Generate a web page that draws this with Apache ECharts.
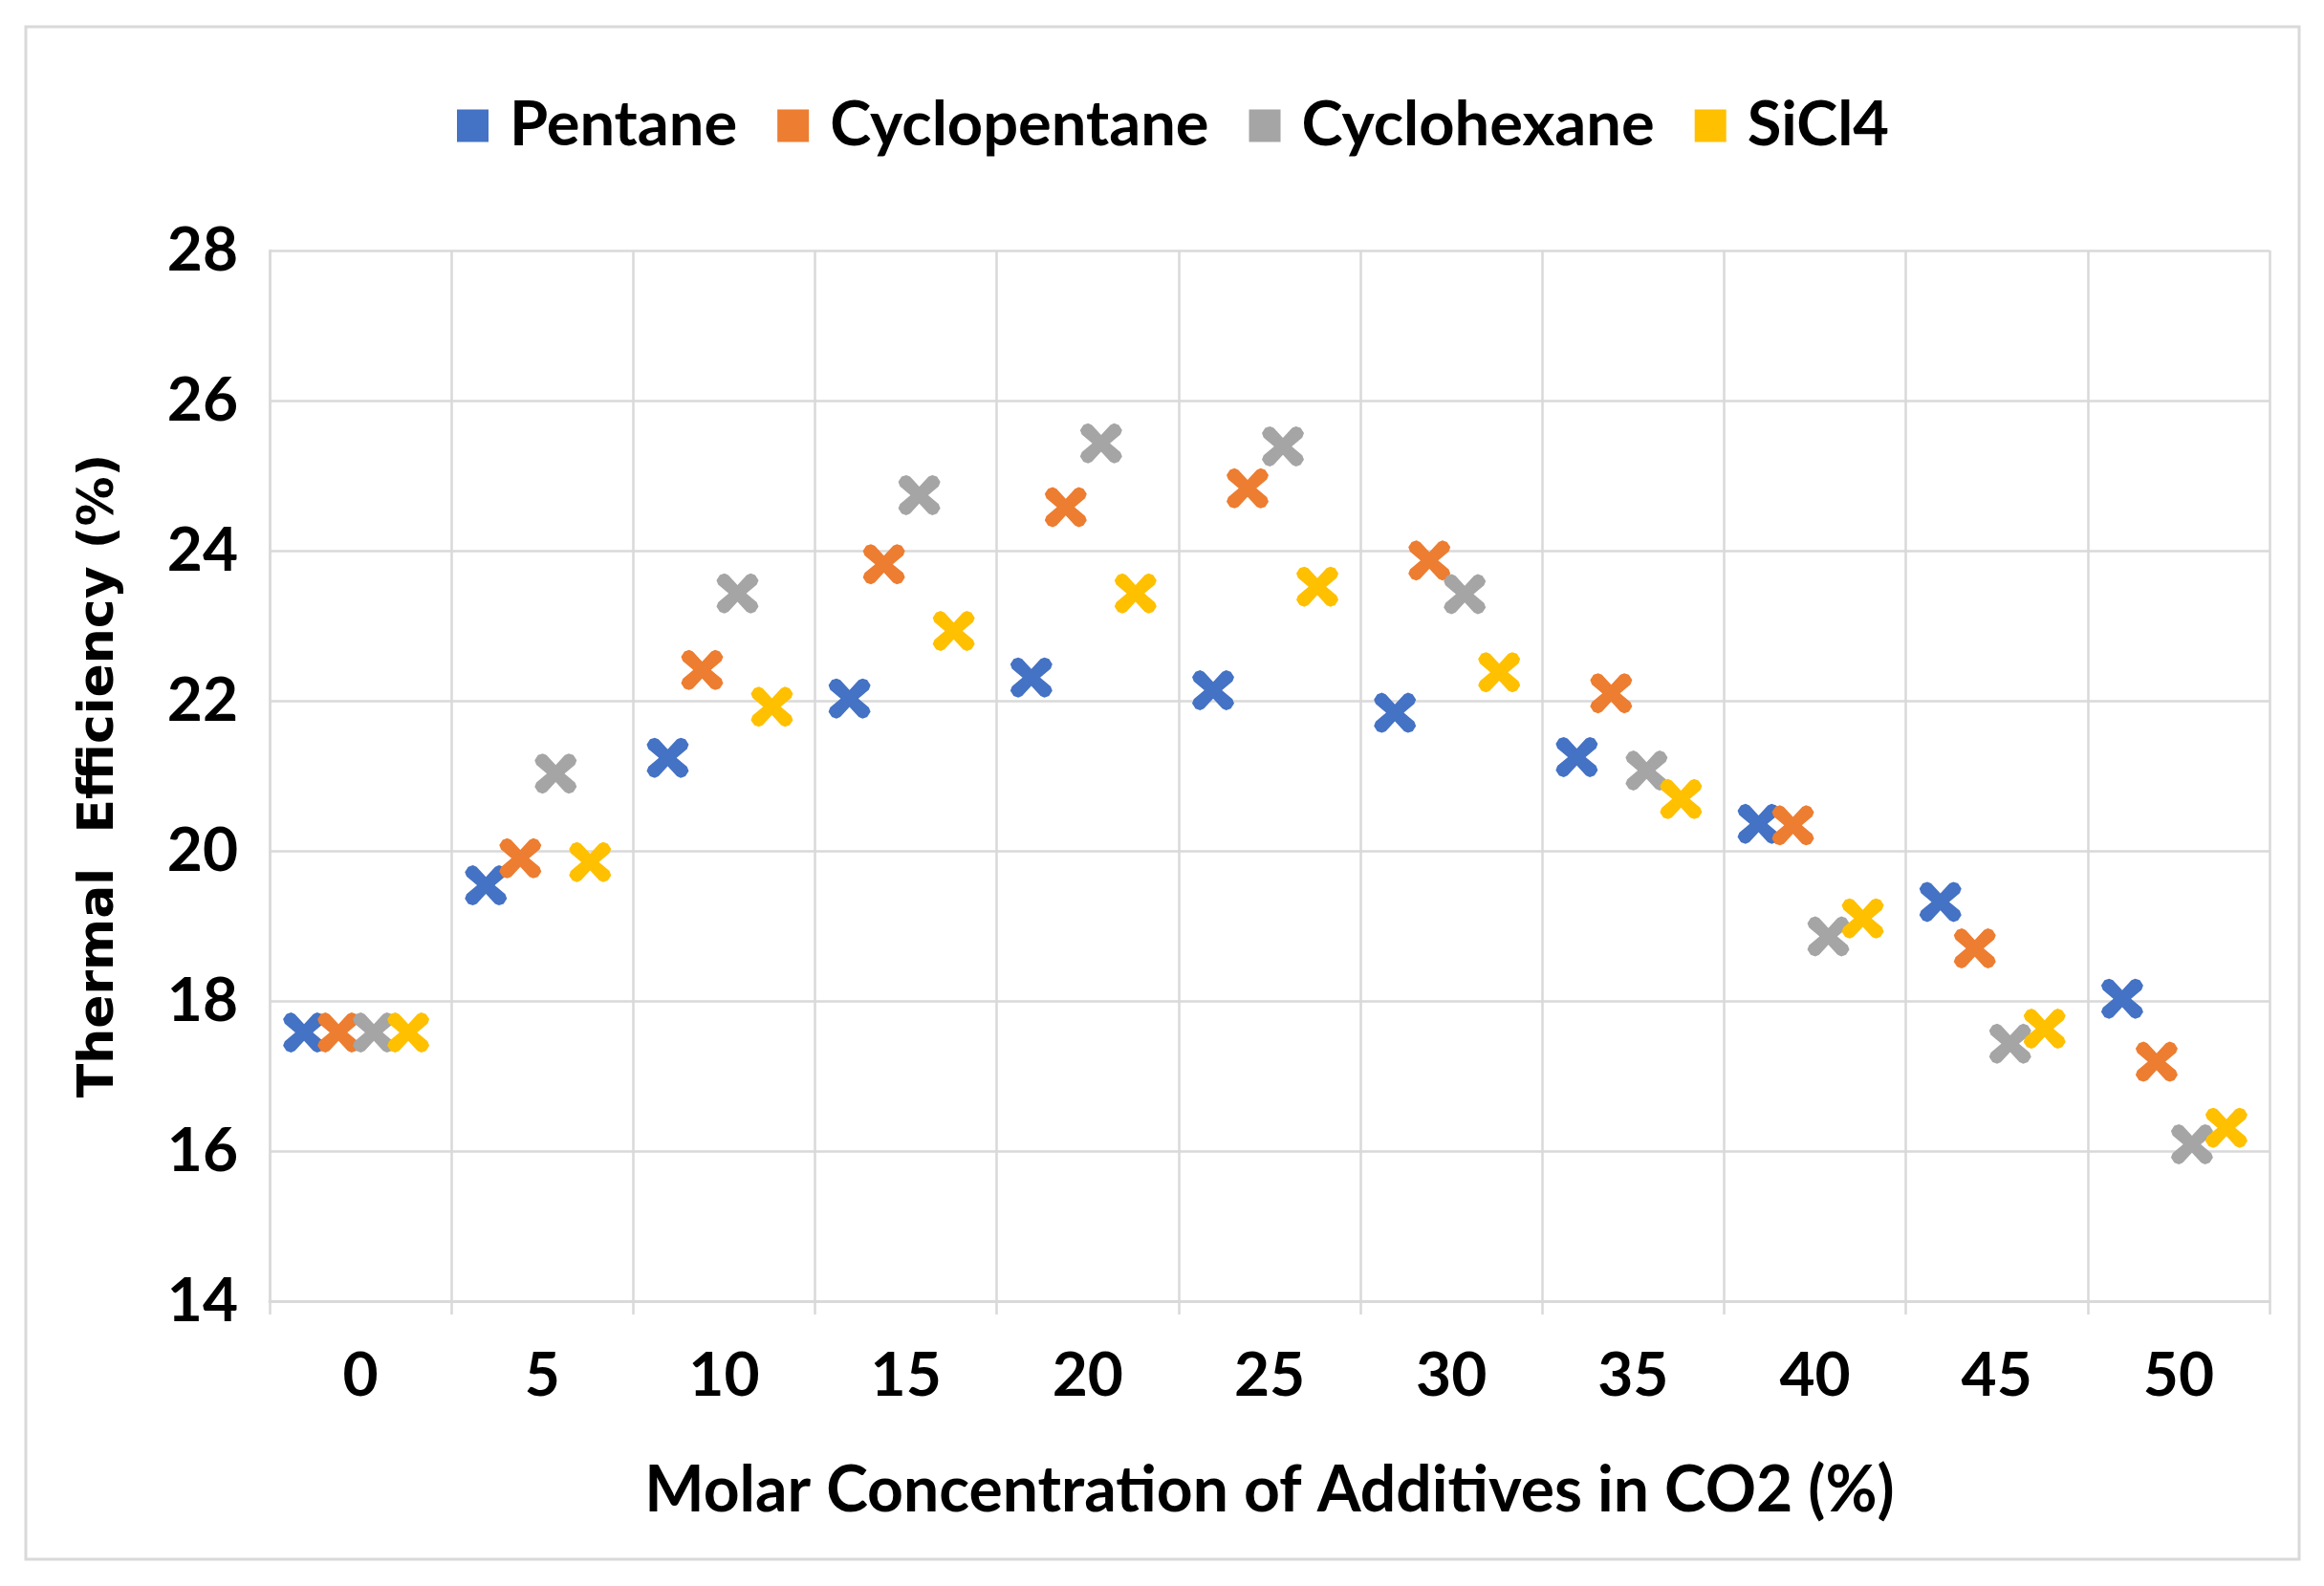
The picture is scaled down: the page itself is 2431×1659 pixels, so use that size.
<!DOCTYPE html>
<html>
<head>
<meta charset="utf-8">
<script src="https://cdn.jsdelivr.net/npm/echarts@6/dist/echarts.min.js"></script>
<style>
  html, body { margin: 0; padding: 0; background: #fff; }
  #chart { width: 2431px; height: 1659px; }
</style>
</head>
<body>
<div id="chart"></div>
<script>
// ---- data ----
const categories = ['0', '5', '10', '15', '20', '25', '30', '35', '40', '45', '50'];
const seriesNames = ['Pentane', 'Cyclopentane', 'Cyclohexane', 'SiCl4'];
const pentane      = [17.58, 19.54, 21.24, 22.03, 22.31, 22.14, 21.84, 21.25, 20.36, 19.32, 18.03];
const cyclopentane = [17.58, 19.90, 22.41, 23.82, 24.58, 24.83, 23.87, 22.10, 20.34, 18.70, 17.19];
const cyclohexane  = [17.58, 21.03, 23.43, 24.74, 25.43, 25.39, 23.42, 21.07, 18.86, 17.43, 16.09];
const sicl4        = [17.58, 19.85, 21.92, 22.93, 23.43, 23.52, 22.38, 20.69, 19.10, 17.63, 16.31];
const yTicks = { min: 14, max: 28, interval: 2 };

// ---- styles ----
const colors = ['#4472C4', '#ED7D31', '#A5A5A5', '#FFC000'];
const offsets = [-59, -23, 14, 50];
const xSymbol = 'path://M0,1.7 L0.8,0.4 L1.9,0 L2.8,0.4 L5,2.9 L7.2,0.4 L8.1,0 L9.2,0.4 L10,1.7 L9.6,2.8 L7.1,5 L9.6,7.2 L10,8.3 L9.2,9.6 L8.1,10 L7.2,9.6 L5,7.1 L2.8,9.6 L1.9,10 L0.8,9.6 L0,8.3 L0.4,7.2 L2.9,5 L0.4,2.8 Z';
const gridColor = '#d9d9d9';
const tickFont = 'Lato';

const allValues = [pentane, cyclopentane, cyclohexane, sicl4];

const chart = echarts.init(document.getElementById('chart'), null, { renderer: 'canvas' });

chart.setOption({
  animation: false,
  backgroundColor: '#ffffff',
  graphic: [{
    type: 'rect',
    shape: { x: 27, y: 28, width: 2378, height: 1603 },
    style: { fill: 'none', stroke: gridColor, lineWidth: 3 },
    silent: true
  }],
  legend: {
    data: seriesNames,
    left: 473,
    top: 94,
    icon: 'rect',
    itemWidth: 33,
    itemHeight: 34,
    itemGap: 42,
    textStyle: {
      fontFamily: tickFont,
      fontWeight: 'bold',
      fontSize: 65,
      color: '#000',
      padding: [0, 0, 0, 17]
    }
  },
  grid: { left: 282, right: 57, top: 262, bottom: 298, containLabel: false },
  xAxis: {
    type: 'category',
    data: categories,
    boundaryGap: true,
    name: 'Molar Concentration of Additives in CO2 (%)',
    nameLocation: 'middle',
    nameGap: 166,
    nameTextStyle: { fontFamily: tickFont, fontWeight: 'bold', fontSize: 66, color: '#000' },
    axisLine: { show: true, lineStyle: { color: gridColor, width: 3 } },
    axisTick: { show: true, length: 14, lineStyle: { color: gridColor, width: 2.5 } },
    axisLabel: { margin: 46, fontFamily: tickFont, fontWeight: 'bold', fontSize: 64, color: '#000' },
    splitLine: { show: true, lineStyle: { color: gridColor, width: 2.5 } }
  },
  yAxis: {
    type: 'value',
    min: yTicks.min,
    max: yTicks.max,
    interval: yTicks.interval,
    name: 'Thermal  Efficiency (%)',
    nameLocation: 'middle',
    nameGap: 152,
    nameTextStyle: { fontFamily: 'DejaVu Sans', fontWeight: 'bold', fontSize: 52, color: '#000' },
    axisLine: { show: true, lineStyle: { color: gridColor, width: 2.5 } },
    axisTick: { show: false },
    axisLabel: { margin: 33, fontFamily: tickFont, fontWeight: 'bold', fontSize: 64, color: '#000' },
    splitLine: { show: true, lineStyle: { color: gridColor, width: 2.5 } }
  },
  series: seriesNames.map((name, i) => ({
    name: name,
    type: 'scatter',
    data: allValues[i],
    symbol: xSymbol,
    symbolSize: [44, 42],
    symbolOffset: [offsets[i], 0],
    itemStyle: { color: colors[i], opacity: 1 },
    emphasis: { disabled: true },
    z: 2 + i
  }))
});
</script>
</body>
</html>
